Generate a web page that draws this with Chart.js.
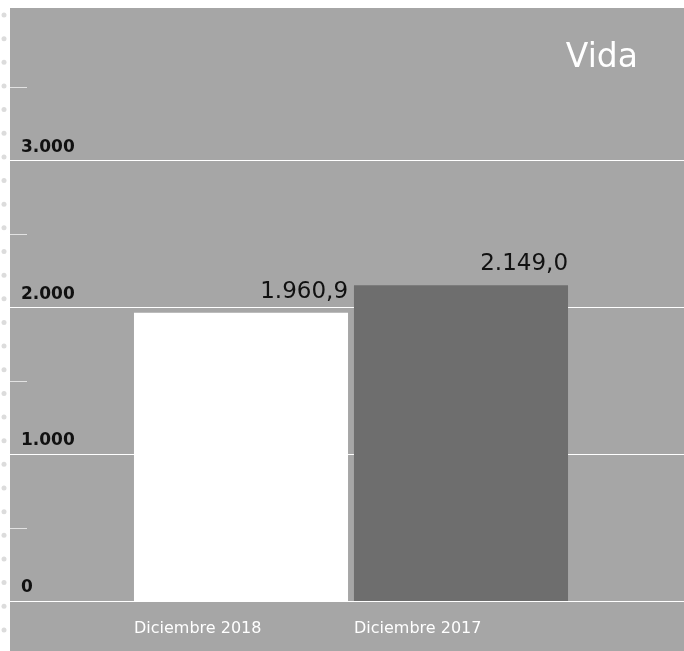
<!DOCTYPE html>
<html lang="es">
<head>
<meta charset="utf-8">
<title>Vida</title>
<script src="https://cdn.jsdelivr.net/npm/chart.js@4/dist/chart.umd.min.js"></script>
<style>
  html, body { margin: 0; padding: 0; background: #ffffff; }
  #wrap { position: relative; width: 684px; height: 651px; }
</style>
</head>
<body>
<div id="wrap"><canvas id="chart" width="684" height="651"></canvas></div>
<script>
// Primas del ramo Vida (millones)
const categories = ['Diciembre 2018', 'Diciembre 2017'];
const values = [1960.9, 2149.0];
const barColors = ['#ffffff', '#6e6e6e'];
const gridValues = [0, 1000, 2000, 3000];
const minorValues = [500, 1500, 2500, 3500];
const panelTitle = 'Vida';

const FONT = '"DejaVu Sans", "Open Sans", sans-serif';

// Spanish-style number: dot for thousands, comma for decimals
function fmt(v, decimals) {
  const parts = v.toFixed(decimals).split('.');
  parts[0] = parts[0].replace(/\B(?=(\d{3})+(?!\d))/g, '.');
  return parts.join(',');
}

const panel = {
  id: 'panel',
  beforeDraw(chart) {
    const ctx = chart.ctx;
    const W = chart.width, H = chart.height;
    ctx.save();
    // grey panel
    ctx.fillStyle = '#a6a6a6';
    ctx.fillRect(10, 8, W - 10, H - 8);
    // dotted column on the left margin
    ctx.fillStyle = '#dcdcdc';
    for (let y = 15; y < H; y += 23.65) {
      ctx.beginPath();
      ctx.arc(4, y, 2.5, 0, Math.PI * 2);
      ctx.fill();
    }
    const ys = chart.scales.y;
    // full-width grid lines
    ctx.strokeStyle = '#ffffff';
    ctx.lineWidth = 1;
    gridValues.forEach(v => {
      const py = Math.round(ys.getPixelForValue(v)) + 0.5;
      ctx.beginPath();
      ctx.moveTo(10, py);
      ctx.lineTo(W, py);
      ctx.stroke();
    });
    // short marks between grid lines
    ctx.strokeStyle = '#e2e2e2';
    minorValues.forEach(v => {
      const py = Math.round(ys.getPixelForValue(v)) + 0.5;
      ctx.beginPath();
      ctx.moveTo(10, py);
      ctx.lineTo(27, py);
      ctx.stroke();
    });
    ctx.restore();
  },
  afterDraw(chart) {
    const ctx = chart.ctx;
    ctx.save();
    // value labels, right-aligned on each bar
    const meta = chart.getDatasetMeta(0);
    ctx.font = '400 23px ' + FONT;
    ctx.fillStyle = '#111111';
    ctx.textAlign = 'right';
    ctx.textBaseline = 'alphabetic';
    meta.data.forEach((bar, i) => {
      const right = bar.x + bar.width / 2;
      ctx.fillText(fmt(chart.data.datasets[0].data[i], 1), right, bar.y - 15);
    });
    // panel title
    ctx.font = '400 33px ' + FONT;
    ctx.fillStyle = '#ffffff';
    ctx.textAlign = 'right';
    ctx.fillText(panelTitle, 638, 67);
    ctx.restore();
  }
};

new Chart(document.getElementById('chart'), {
  type: 'bar',
  data: {
    labels: categories,
    datasets: [{
      data: values,
      backgroundColor: barColors,
      borderWidth: 0,
      categoryPercentage: 1,
      barPercentage: 0.973
    }]
  },
  options: {
    responsive: false,
    animation: false,
    devicePixelRatio: 1,
    layout: { padding: { left: 21, right: 113, top: 13, bottom: 14 } },
    plugins: {
      legend: { display: false },
      tooltip: { enabled: false }
    },
    scales: {
      x: {
        grid: { display: false, drawTicks: false },
        border: { display: false },
        afterFit(scale) { scale.height = 36; },
        ticks: {
          color: '#ffffff',
          font: { family: FONT, size: 16 },
          align: 'start',
          labelOffset: -107,
          padding: 18,
          maxRotation: 0
        }
      },
      y: {
        min: 0,
        max: 4000,
        grid: { display: false, drawTicks: false },
        border: { display: false },
        afterFit(scale) { scale.width = 110; },
        ticks: {
          stepSize: 1000,
          color: '#111111',
          font: { family: FONT, size: 17, weight: 'bold' },
          crossAlign: 'far',
          labelOffset: -13,
          callback: v => (v >= 4000 ? '' : fmt(v, 0))
        }
      }
    }
  },
  plugins: [panel]
});
</script>
</body>
</html>
